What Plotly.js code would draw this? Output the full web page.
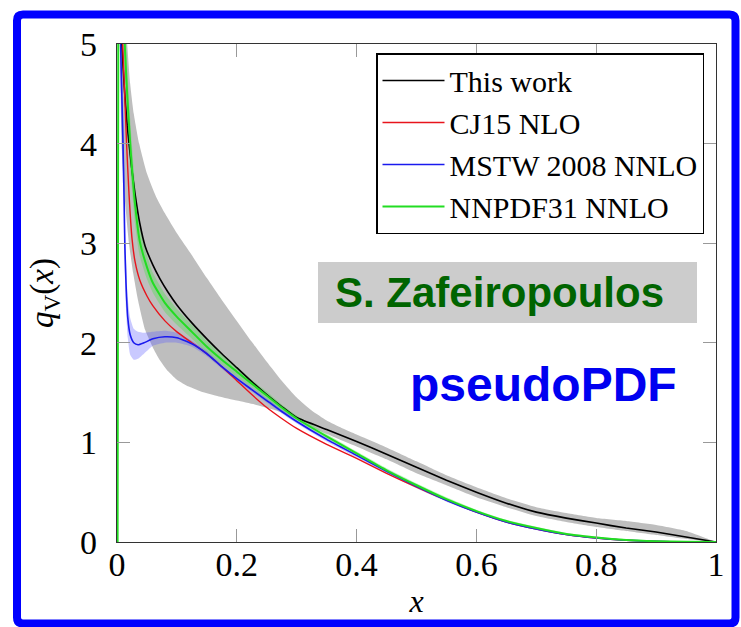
<!DOCTYPE html>
<html>
<head>
<meta charset="utf-8">
<script src="https://cdn.plot.ly/plotly-3.0.1.min.js"></script>
<style>
  html, body { margin: 0; padding: 0; background: #ffffff; }
  #chart { width: 741px; height: 627px; }
</style>
</head>
<body>
<div id="chart"></div>
<script>
// ---- Data ----
const xTickVals = [0, 0.2, 0.4, 0.6, 0.8, 1];
const xTickText = ["0", "0.2", "0.4", "0.6", "0.8", "1"];
const yTickVals = [0, 1, 2, 3, 4, 5];
const yTickText = ["0", "1", "2", "3", "4", "5"];

const seriesNames = ["This work", "CJ15 NLO", "MSTW 2008 NNLO", "NNPDF31 NNLO"];

// This work (central curve)
const thisWorkX = [0.006, 0.008, 0.012, 0.017, 0.024, 0.03, 0.038, 0.047, 0.06, 0.072, 0.085, 0.1, 0.125, 0.15, 0.175, 0.2, 0.225, 0.25, 0.275, 0.3, 0.35, 0.4, 0.45, 0.5, 0.55, 0.6, 0.65, 0.7, 0.75, 0.8, 0.85, 0.9, 0.95, 1.0];
const thisWorkY = [5.3, 5.0, 4.58, 4.18, 3.78, 3.5, 3.2, 2.97, 2.78, 2.64, 2.51, 2.38, 2.20, 2.04, 1.89, 1.75, 1.61, 1.48, 1.36, 1.25, 1.13, 1.01, 0.88, 0.75, 0.62, 0.50, 0.39, 0.30, 0.24, 0.19, 0.14, 0.10, 0.05, 0.0];

// This work uncertainty band
const bandUpperX = [0.012, 0.017, 0.022, 0.028, 0.037, 0.05, 0.065, 0.08, 0.1, 0.125, 0.15, 0.175, 0.2, 0.225, 0.25, 0.275, 0.3, 0.325, 0.35, 0.375, 0.4, 0.45, 0.5, 0.55, 0.6, 0.65, 0.7, 0.75, 0.8, 0.85, 0.9, 0.95, 1.0];
const bandUpperY = [5.3, 5.0, 4.6, 4.3, 4.0, 3.7, 3.47, 3.3, 3.1, 2.88, 2.65, 2.43, 2.22, 2.01, 1.81, 1.62, 1.45, 1.32, 1.22, 1.145, 1.08, 0.95, 0.81, 0.67, 0.55, 0.44, 0.35, 0.29, 0.24, 0.21, 0.17, 0.11, 0.0];
const bandLowerX = [0.004, 0.006, 0.008, 0.013, 0.02, 0.027, 0.035, 0.047, 0.06, 0.07, 0.083, 0.1, 0.12, 0.14, 0.17, 0.2, 0.23, 0.26, 0.28, 0.3, 0.33, 0.36, 0.4, 0.45, 0.5, 0.55, 0.6, 0.65, 0.7, 0.75, 0.8, 0.85, 0.9, 0.95, 1.0];
const bandLowerY = [5.3, 4.5, 3.94, 3.45, 3.0, 2.7, 2.43, 2.13, 1.95, 1.84, 1.73, 1.63, 1.56, 1.51, 1.46, 1.42, 1.38, 1.33, 1.29, 1.23, 1.14, 1.06, 0.96, 0.83, 0.69, 0.57, 0.45, 0.35, 0.26, 0.20, 0.15, 0.11, 0.07, 0.03, 0.0];

// CJ15 NLO
const cj15X = [0.0095, 0.016, 0.02, 0.025, 0.03, 0.038, 0.05, 0.06, 0.08, 0.1, 0.125, 0.15, 0.175, 0.2, 0.225, 0.25, 0.275, 0.3, 0.35, 0.4, 0.45, 0.5, 0.55, 0.6, 0.65, 0.7, 0.75, 0.8, 0.85, 0.9, 0.95, 1.0];
const cj15Y = [5.0, 4.0, 3.5, 3.05, 2.82, 2.63, 2.47, 2.37, 2.22, 2.11, 2.0, 1.89, 1.76, 1.62, 1.48, 1.35, 1.24, 1.14, 0.98, 0.84, 0.69, 0.55, 0.42, 0.30, 0.20, 0.13, 0.075, 0.04, 0.018, 0.006, 0.001, 0.0];

// MSTW 2008 NNLO with band
const mstwX = [0.006, 0.008, 0.01, 0.012, 0.013, 0.015, 0.018, 0.022, 0.028, 0.035, 0.045, 0.06, 0.08, 0.1, 0.125, 0.15, 0.175, 0.2, 0.225, 0.25, 0.275, 0.3, 0.35, 0.4, 0.45, 0.5, 0.55, 0.6, 0.65, 0.7, 0.75, 0.8, 0.85, 0.9, 0.95, 1.0];
const mstwY = [5.0, 4.5, 4.0, 3.4, 3.0, 2.6, 2.25, 2.08, 2.0, 1.98, 2.0, 2.04, 2.06, 2.05, 1.99, 1.89, 1.76, 1.64, 1.53, 1.42, 1.31, 1.21, 1.03, 0.87, 0.71, 0.56, 0.42, 0.30, 0.20, 0.13, 0.075, 0.04, 0.018, 0.006, 0.001, 0.0];
const mstwLow = [4.6, 4.1, 3.6, 3.05, 2.7, 2.35, 2.05, 1.88, 1.83, 1.84, 1.89, 1.97, 2.0, 2.0, 1.96, 1.865, 1.74, 1.62, 1.51, 1.40, 1.29, 1.19, 1.01, 0.85, 0.69, 0.54, 0.405, 0.29, 0.19, 0.12, 0.068, 0.035, 0.015, 0.004, 0.0, 0.0];
const mstwHigh = [5.4, 4.9, 4.4, 3.75, 3.3, 2.85, 2.45, 2.25, 2.14, 2.11, 2.1, 2.11, 2.12, 2.1, 2.02, 1.915, 1.78, 1.66, 1.55, 1.44, 1.33, 1.23, 1.05, 0.89, 0.73, 0.58, 0.435, 0.31, 0.21, 0.14, 0.082, 0.045, 0.021, 0.008, 0.002, 0.0];

// NNPDF31 NNLO with band
const nnpdfX = [0.001, 0.003, 0.013, 0.017, 0.022, 0.03, 0.038, 0.05, 0.06, 0.08, 0.1, 0.125, 0.15, 0.175, 0.2, 0.225, 0.25, 0.275, 0.3, 0.35, 0.4, 0.45, 0.5, 0.55, 0.6, 0.65, 0.7, 0.75, 0.8, 0.85, 0.9, 0.95, 1.0];
const nnpdfY = [0.0, 9.0, 5.0, 4.5, 4.0, 3.4, 3.02, 2.76, 2.6, 2.4, 2.26, 2.11, 1.96, 1.83, 1.71, 1.59, 1.47, 1.35, 1.24, 1.06, 0.89, 0.72, 0.57, 0.43, 0.31, 0.21, 0.14, 0.08, 0.045, 0.02, 0.008, 0.002, 0.0];
const nnpdfBandX = [0.013, 0.017, 0.022, 0.03, 0.038, 0.05, 0.06, 0.08, 0.1, 0.125, 0.15, 0.175, 0.2, 0.225, 0.25, 0.275, 0.3, 0.35, 0.4, 0.45, 0.5, 0.55, 0.6, 0.65, 0.7, 0.75, 0.8, 0.85, 0.9, 0.95, 1.0];
const nnpdfLow = [4.7, 4.2, 3.75, 3.2, 2.87, 2.64, 2.5, 2.31, 2.18, 2.04, 1.90, 1.78, 1.66, 1.55, 1.43, 1.32, 1.21, 1.035, 0.87, 0.70, 0.55, 0.41, 0.295, 0.197, 0.127, 0.068, 0.036, 0.013, 0.003, 0.0, 0.0];
const nnpdfHigh = [5.3, 4.8, 4.25, 3.6, 3.17, 2.88, 2.7, 2.49, 2.34, 2.18, 2.02, 1.88, 1.76, 1.63, 1.51, 1.38, 1.27, 1.085, 0.91, 0.74, 0.59, 0.45, 0.325, 0.223, 0.153, 0.092, 0.054, 0.027, 0.013, 0.004, 0.0];

// ---- Helpers ----
function polygon(xUp, yUp, xLo, yLo) {
  return {
    x: xUp.concat(xLo.slice().reverse()),
    y: yUp.concat(yLo.slice().reverse())
  };
}

const serif = "Liberation Serif";
const sans = "Liberation Sans";

const gBand = polygon(bandUpperX, bandUpperY, bandLowerX, bandLowerY);
const bBand = polygon(mstwX, mstwHigh, mstwX, mstwLow);
const nBand = polygon(nnpdfBandX, nnpdfHigh, nnpdfBandX, nnpdfLow);

const lineShape = { shape: "spline", smoothing: 0.5 };

const traces = [
  { x: gBand.x, y: gBand.y, type: "scatter", mode: "lines", fill: "toself",
    fillcolor: "rgb(190,190,190)", line: Object.assign({ width: 0, color: "rgba(0,0,0,0)" }, lineShape),
    showlegend: false, hoverinfo: "skip" },
  { x: nBand.x, y: nBand.y, type: "scatter", mode: "lines", fill: "toself",
    fillcolor: "rgba(60,230,60,0.33)", line: Object.assign({ width: 0, color: "rgba(0,0,0,0)" }, lineShape),
    showlegend: false, hoverinfo: "skip" },
  { x: bBand.x, y: bBand.y, type: "scatter", mode: "lines", fill: "toself",
    fillcolor: "rgba(90,90,255,0.33)", line: Object.assign({ width: 0, color: "rgba(0,0,0,0)" }, lineShape),
    showlegend: false, hoverinfo: "skip" },
  { x: thisWorkX, y: thisWorkY, type: "scatter", mode: "lines", name: seriesNames[0],
    line: Object.assign({ color: "#000000", width: 1.6 }, lineShape) },
  { x: cj15X, y: cj15Y, type: "scatter", mode: "lines", name: seriesNames[1],
    line: Object.assign({ color: "#e8141c", width: 1.4 }, lineShape) },
  { x: mstwX, y: mstwY, type: "scatter", mode: "lines", name: seriesNames[2],
    line: Object.assign({ color: "#1a1aee", width: 1.6 }, lineShape) },
  { x: nnpdfX, y: nnpdfY, type: "scatter", mode: "lines", name: seriesNames[3],
    line: Object.assign({ color: "#22dd22", width: 2 }, lineShape) }
];

// plot-area geometry in pixels (for paper coordinate conversions)
const L = 117, R = 716, T = 44, B = 542;
const px = v => (v - L) / (R - L);
const py = v => (B - v) / (B - T);

// rounded blue frame path (paper coordinates)
function roundedFrame(x0, y0, x1, y1, r) {
  const X0 = px(x0), X1 = px(x1), Y0 = py(y0), Y1 = py(y1);
  const rx = r / (R - L), ry = r / (B - T);
  return "M" + (X0 + rx) + "," + Y0 +
    " L" + (X1 - rx) + "," + Y0 + " Q" + X1 + "," + Y0 + " " + X1 + "," + (Y0 - ry) +
    " L" + X1 + "," + (Y1 + ry) + " Q" + X1 + "," + Y1 + " " + (X1 - rx) + "," + Y1 +
    " L" + (X0 + rx) + "," + Y1 + " Q" + X0 + "," + Y1 + " " + X0 + "," + (Y1 + ry) +
    " L" + X0 + "," + (Y0 - ry) + " Q" + X0 + "," + Y0 + " " + (X0 + rx) + "," + Y0 + " Z";
}

const layout = {
  width: 741, height: 627,
  margin: { l: L, r: 741 - R, t: T, b: 627 - B, pad: 0 },
  paper_bgcolor: "#ffffff", plot_bgcolor: "#ffffff",
  showlegend: true,
  font: { family: serif, size: 30, color: "#000000" },
  xaxis: {
    range: [0, 1], tickmode: "array", tickvals: xTickVals, ticktext: xTickText,
    ticks: "inside", ticklen: 13, tickwidth: 1, tickcolor: "#999999",
    showline: true, linecolor: "#333333", linewidth: 1.3, mirror: "ticks",
    showgrid: false, zeroline: false, automargin: false,
    ticklabelstandoff: -8,
    tickfont: { family: serif, size: 34, color: "#000000" },
    title: { text: "<i>x</i>", font: { family: serif, size: 32, color: "#000000" }, standoff: 7 }
  },
  yaxis: {
    range: [0, 5], tickmode: "array", tickvals: yTickVals, ticktext: yTickText,
    ticks: "inside", ticklen: 13, tickwidth: 1, tickcolor: "#999999",
    showline: true, linecolor: "#333333", linewidth: 1.3, mirror: "ticks",
    showgrid: false, zeroline: false, automargin: false,
    ticklabelstandoff: 12,
    tickfont: { family: serif, size: 34, color: "#000000" },
    title: { text: "<i>q</i><sub>V</sub>(<i>x</i>)", font: { family: serif, size: 33, color: "#000000" }, standoff: 16 }
  },
  legend: {
    x: px(704), y: py(53), xanchor: "right", yanchor: "top",
    bgcolor: "#ffffff", bordercolor: "#000000", borderwidth: 1.5,
    font: { family: serif, size: 30, color: "#000000" },
    itemwidth: 62, tracegroupgap: 0, traceorder: "normal"
  },
  shapes: [
    { type: "rect", xref: "paper", yref: "paper",
      x0: px(318), x1: px(697), y0: py(323), y1: py(262),
      fillcolor: "#cccccc", line: { width: 0 }, layer: "above" },
    { type: "path", xref: "paper", yref: "paper",
      path: roundedFrame(17, 14.5, 735.5, 623.5, 6),
      fillcolor: "rgba(0,0,0,0)", line: { color: "#0000ff", width: 8 }, layer: "above" }
  ],
  annotations: [
    { xref: "paper", yref: "paper", x: px(499), y: py(292), xanchor: "center", yanchor: "middle",
      text: "<b>S. Zafeiropoulos</b>", showarrow: false,
      font: { family: sans, size: 42, color: "#006400" } },
    { xref: "paper", yref: "paper", x: px(543), y: py(384), xanchor: "center", yanchor: "middle",
      text: "<b>pseudoPDF</b>", showarrow: false,
      font: { family: sans, size: 48, color: "#0000f0" } }
  ]
};

Plotly.newPlot("chart", traces, layout, { displayModeBar: false, staticPlot: true });
</script>
</body>
</html>
